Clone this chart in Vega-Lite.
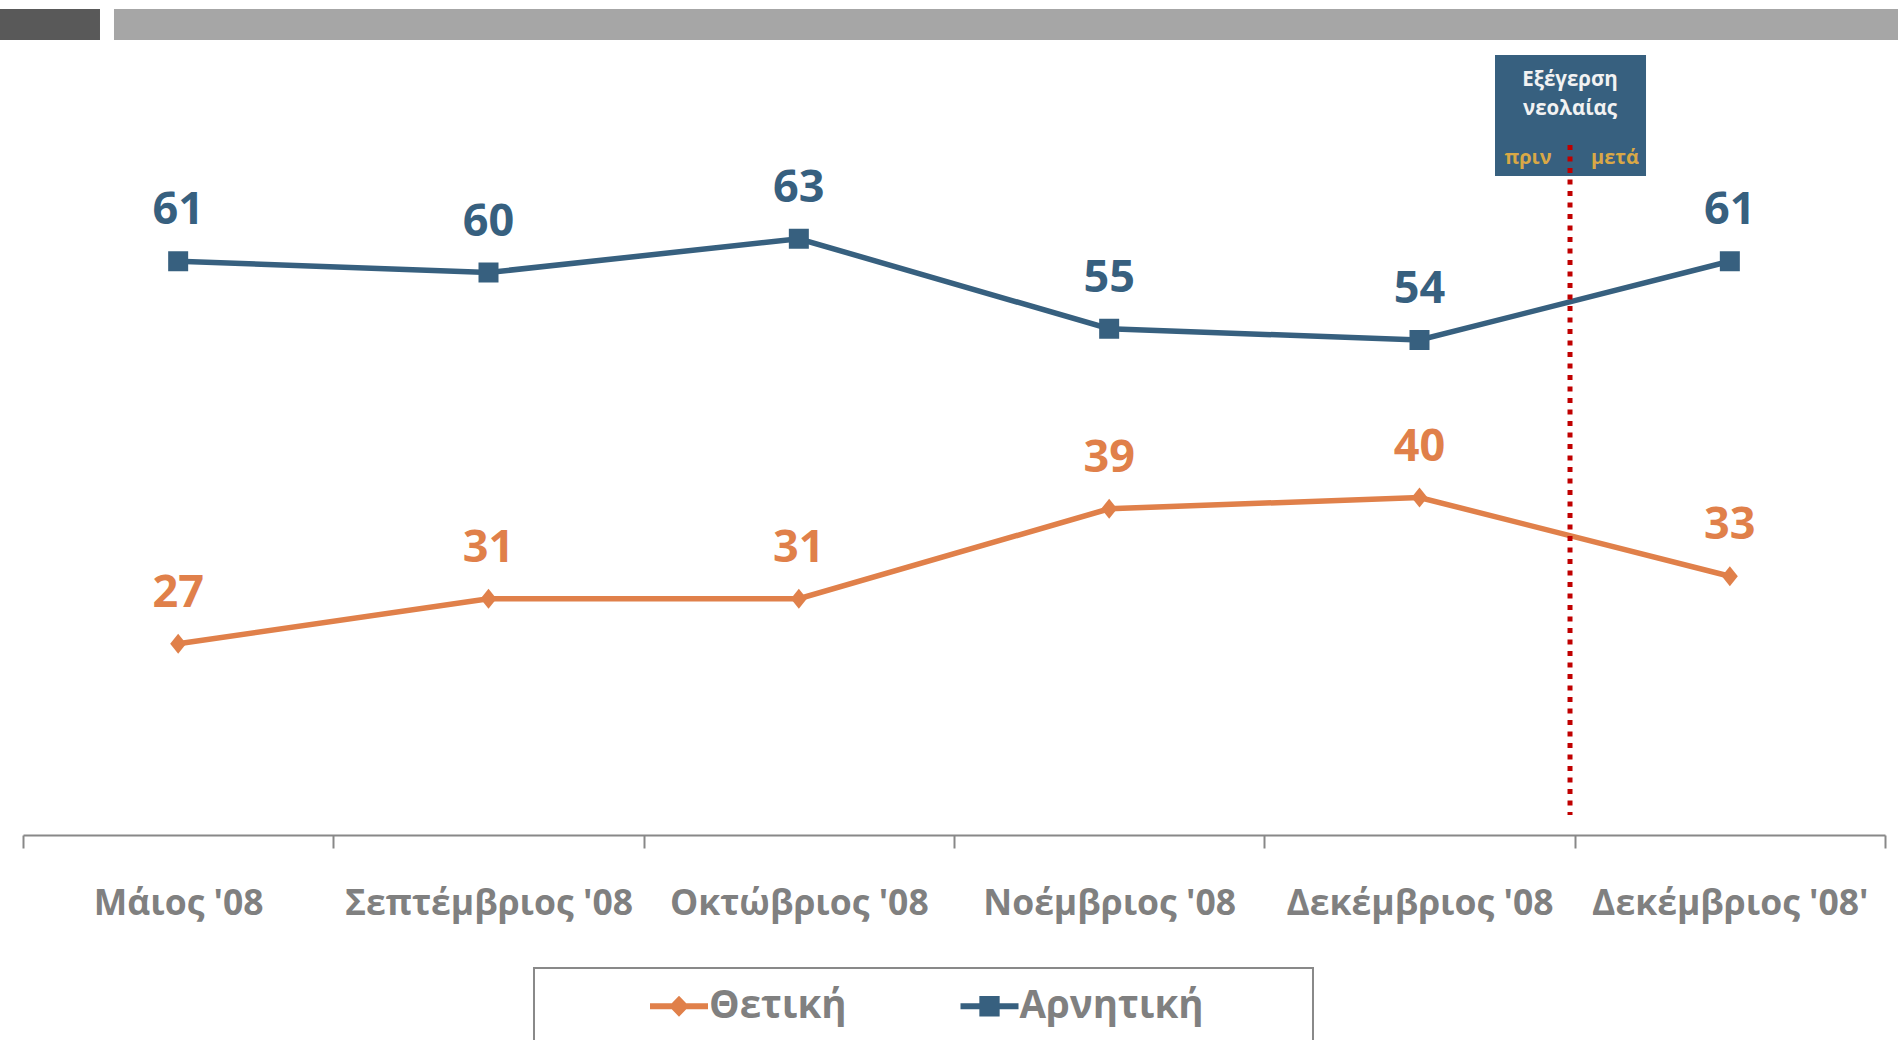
{
  "$schema": "https://vega.github.io/schema/vega-lite/v6.json",
  "width": 1862,
  "height": 675,
  "autosize": {"type": "none"},
  "padding": {"left": 23, "top": 160, "right": 13, "bottom": 205},
  "background": "white",
  "config": {"view": {"stroke": null}, "font": "Open Sans"},
  "data": {
    "values": [
      {"month": "Μάιος '08", "series": "Θετική", "value": 27},
      {"month": "Σεπτέμβριος '08", "series": "Θετική", "value": 31},
      {"month": "Οκτώβριος '08", "series": "Θετική", "value": 31},
      {"month": "Νοέμβριος '08", "series": "Θετική", "value": 39},
      {"month": "Δεκέμβριος '08", "series": "Θετική", "value": 40},
      {"month": "Δεκέμβριος '08'", "series": "Θετική", "value": 33},
      {"month": "Μάιος '08", "series": "Αρνητική", "value": 61},
      {"month": "Σεπτέμβριος '08", "series": "Αρνητική", "value": 60},
      {"month": "Οκτώβριος '08", "series": "Αρνητική", "value": 63},
      {"month": "Νοέμβριος '08", "series": "Αρνητική", "value": 55},
      {"month": "Δεκέμβριος '08", "series": "Αρνητική", "value": 54},
      {"month": "Δεκέμβριος '08'", "series": "Αρνητική", "value": 61}
    ]
  },
  "resolve": {"scale": {"x": "independent"}},
  "layer": [
    {
      "layer": [
        {
          "mark": {"type": "line", "strokeWidth": 5.5},
          "encoding": {
            "x": {"field": "month", "type": "nominal", "title": null,
              "scale": {"type": "band", "domain": ["Μάιος '08", "Σεπτέμβριος '08", "Οκτώβριος '08", "Νοέμβριος '08", "Δεκέμβριος '08", "Δεκέμβριος '08'"], "paddingInner": 0, "paddingOuter": 0},
              "axis": {"domainColor": "#888888", "domainWidth": 2, "tickColor": "#888888", "tickWidth": 2, "tickSize": 13, "tickBand": "extent", "labelFont": "Open Sans", "labelFontSize": 35.5, "labelFontWeight": "bold", "labelColor": "#808080", "labelPadding": 38, "labelLimit": 500, "labelAngle": 0, "labelOverlap": false, "grid": false}},
            "y": {"field": "value", "type": "quantitative", "scale": {"domain": [10, 70], "nice": false, "zero": false}, "axis": null},
            "stroke": {"field": "series", "type": "nominal", "scale": {"domain": ["Αρνητική", "Θετική"], "range": ["#37607F", "#E0804A"]}, "legend": null}
          }
        },
        {
          "transform": [{"filter": "datum.series === 'Θετική'"}],
          "mark": {"type": "point", "shape": "M0,-1L0.8,0L0,1L-0.8,0Z", "size": 400, "filled": true, "color": "#E0804A", "opacity": 1},
          "encoding": {
            "x": {"field": "month", "type": "nominal", "title": null,
              "scale": {"type": "band", "domain": ["Μάιος '08", "Σεπτέμβριος '08", "Οκτώβριος '08", "Νοέμβριος '08", "Δεκέμβριος '08", "Δεκέμβριος '08'"], "paddingInner": 0, "paddingOuter": 0},
              "axis": {"domainColor": "#888888", "domainWidth": 2, "tickColor": "#888888", "tickWidth": 2, "tickSize": 13, "tickBand": "extent", "labelFont": "Open Sans", "labelFontSize": 35.5, "labelFontWeight": "bold", "labelColor": "#808080", "labelPadding": 38, "labelLimit": 500, "labelAngle": 0, "labelOverlap": false, "grid": false}},
            "y": {"field": "value", "type": "quantitative", "scale": {"domain": [10, 70], "nice": false, "zero": false}, "axis": null}
          }
        },
        {
          "transform": [{"filter": "datum.series === 'Αρνητική'"}],
          "mark": {"type": "point", "shape": "square", "size": 400, "filled": true, "color": "#37607F", "opacity": 1},
          "encoding": {
            "x": {"field": "month", "type": "nominal", "title": null,
              "scale": {"type": "band", "domain": ["Μάιος '08", "Σεπτέμβριος '08", "Οκτώβριος '08", "Νοέμβριος '08", "Δεκέμβριος '08", "Δεκέμβριος '08'"], "paddingInner": 0, "paddingOuter": 0},
              "axis": {"domainColor": "#888888", "domainWidth": 2, "tickColor": "#888888", "tickWidth": 2, "tickSize": 13, "tickBand": "extent", "labelFont": "Open Sans", "labelFontSize": 35.5, "labelFontWeight": "bold", "labelColor": "#808080", "labelPadding": 38, "labelLimit": 500, "labelAngle": 0, "labelOverlap": false, "grid": false}},
            "y": {"field": "value", "type": "quantitative", "scale": {"domain": [10, 70], "nice": false, "zero": false}, "axis": null}
          }
        },
        {
          "mark": {"type": "text", "font": "Open Sans", "fontSize": 45, "fontWeight": "bold", "baseline": "alphabetic", "align": "center", "dy": -37},
          "encoding": {
            "x": {"field": "month", "type": "nominal", "title": null,
              "scale": {"type": "band", "domain": ["Μάιος '08", "Σεπτέμβριος '08", "Οκτώβριος '08", "Νοέμβριος '08", "Δεκέμβριος '08", "Δεκέμβριος '08'"], "paddingInner": 0, "paddingOuter": 0},
              "axis": {"domainColor": "#888888", "domainWidth": 2, "tickColor": "#888888", "tickWidth": 2, "tickSize": 13, "tickBand": "extent", "labelFont": "Open Sans", "labelFontSize": 35.5, "labelFontWeight": "bold", "labelColor": "#808080", "labelPadding": 38, "labelLimit": 500, "labelAngle": 0, "labelOverlap": false, "grid": false}},
            "y": {"field": "value", "type": "quantitative", "scale": {"domain": [10, 70], "nice": false, "zero": false}, "axis": null},
            "text": {"field": "value", "type": "quantitative"},
            "fill": {"field": "series", "type": "nominal", "scale": {"domain": ["Αρνητική", "Θετική"], "range": ["#37607F", "#E0804A"]}, "legend": null}
          }
        },
        {
          "mark": {"type": "point", "filled": true, "opacity": 1, "size": 3364},
          "encoding": {
            "x": {"field": "month", "type": "nominal", "title": null,
              "scale": {"type": "band", "domain": ["Μάιος '08", "Σεπτέμβριος '08", "Οκτώβριος '08", "Νοέμβριος '08", "Δεκέμβριος '08", "Δεκέμβριος '08'"], "paddingInner": 0, "paddingOuter": 0},
              "axis": {"domainColor": "#888888", "domainWidth": 2, "tickColor": "#888888", "tickWidth": 2, "tickSize": 13, "tickBand": "extent", "labelFont": "Open Sans", "labelFontSize": 35.5, "labelFontWeight": "bold", "labelColor": "#808080", "labelPadding": 38, "labelLimit": 500, "labelAngle": 0, "labelOverlap": false, "grid": false}},
            "y": {"datum": -100, "type": "quantitative", "scale": {"domain": [10, 70], "nice": false, "zero": false}, "axis": null},
            "color": {"field": "series", "type": "nominal", "scale": {"domain": ["Θετική", "Αρνητική"], "range": ["#E0804A", "#37607F"]},
              "legend": {"title": null, "orient": "none", "legendX": 627, "legendY": 817, "direction": "horizontal", "symbolSize": 3364, "symbolStrokeWidth": 0, "symbolOpacity": 1, "labelFont": "Open Sans", "labelFontSize": 38.5, "labelFontWeight": "bold", "labelColor": "#808080", "labelLimit": 500, "labelOffset": 1, "columnPadding": 113.5, "padding": 0}},
            "shape": {"field": "series", "type": "nominal", "scale": {"domain": ["Θετική", "Αρνητική"], "range": ["M-1,-0.1L-0.249,-0.1L0,-0.36L0.249,-0.1L1,-0.1L1,0.1L0.249,0.1L0,0.36L-0.249,0.1L-1,0.1Z", "M-1,-0.1H-0.35V-0.35H0.35V-0.1H1V0.1H0.35V0.35H-0.35V0.1H-1Z"]},
              "legend": {"title": null, "orient": "none", "legendX": 627, "legendY": 817, "direction": "horizontal", "symbolSize": 3364, "symbolStrokeWidth": 0, "symbolOpacity": 1, "labelFont": "Open Sans", "labelFontSize": 38.5, "labelFontWeight": "bold", "labelColor": "#808080", "labelLimit": 500, "labelOffset": 1, "columnPadding": 113.5, "padding": 0}}
          }
        }
      ]
    },
    {
      "data": {"values": [{"k": 1}]},
      "layer": [
        {
          "mark": {"type": "rect", "color": "#595959"},
          "encoding": {
            "x": {"datum": -0.0741, "type": "quantitative", "scale": {"domain": [0, 6], "nice": false, "zero": false}, "axis": null},
            "x2": {"datum": 0.2481},
            "y": {"datum": 83.42, "type": "quantitative", "axis": null},
            "y2": {"datum": 80.67}
          }
        },
        {
          "mark": {"type": "rect", "color": "#A6A6A6"},
          "encoding": {
            "x": {"datum": 0.2932, "type": "quantitative", "scale": {"domain": [0, 6], "nice": false, "zero": false}, "axis": null},
            "x2": {"datum": 6.05},
            "y": {"datum": 83.42, "type": "quantitative", "axis": null},
            "y2": {"datum": 80.67}
          }
        },
        {
          "mark": {"type": "rect", "color": "#37607F"},
          "encoding": {
            "x": {"datum": 4.7433, "type": "quantitative", "scale": {"domain": [0, 6], "nice": false, "zero": false}, "axis": null},
            "x2": {"datum": 5.2299},
            "y": {"datum": 79.33, "type": "quantitative", "axis": null},
            "y2": {"datum": 68.58}
          }
        },
        {
          "mark": {"type": "rect", "fill": "transparent", "stroke": "#898989", "strokeWidth": 2},
          "encoding": {
            "x": {"datum": 1.6466, "type": "quantitative", "scale": {"domain": [0, 6], "nice": false, "zero": false}, "axis": null},
            "x2": {"datum": 4.1568},
            "y": {"datum": -1.82, "type": "quantitative", "axis": null},
            "y2": {"datum": -12}
          }
        },
        {
          "mark": {"type": "text", "text": "Εξέγερση", "font": "Open Sans", "fontSize": 20.5, "fontWeight": "bold", "color": "#F2F2F2", "align": "center", "baseline": "alphabetic"},
          "encoding": {
            "x": {"datum": 4.985, "type": "quantitative", "scale": {"domain": [0, 6], "nice": false, "zero": false}, "axis": null},
            "y": {"datum": 76.61, "type": "quantitative", "axis": null}
          }
        },
        {
          "mark": {"type": "text", "text": "νεολαίας", "font": "Open Sans", "fontSize": 20.5, "fontWeight": "bold", "color": "#F2F2F2", "align": "center", "baseline": "alphabetic"},
          "encoding": {
            "x": {"datum": 4.985, "type": "quantitative", "scale": {"domain": [0, 6], "nice": false, "zero": false}, "axis": null},
            "y": {"datum": 73.97, "type": "quantitative", "axis": null}
          }
        },
        {
          "mark": {"type": "text", "text": "πριν", "font": "Open Sans", "fontSize": 20, "fontWeight": "bold", "color": "#D9A846", "align": "center", "baseline": "alphabetic"},
          "encoding": {
            "x": {"datum": 4.8497, "type": "quantitative", "scale": {"domain": [0, 6], "nice": false, "zero": false}, "axis": null},
            "y": {"datum": 69.64, "type": "quantitative", "axis": null}
          }
        },
        {
          "mark": {"type": "text", "text": "μετά", "font": "Open Sans", "fontSize": 20, "fontWeight": "bold", "color": "#D9A846", "align": "center", "baseline": "alphabetic"},
          "encoding": {
            "x": {"datum": 5.13, "type": "quantitative", "scale": {"domain": [0, 6], "nice": false, "zero": false}, "axis": null},
            "y": {"datum": 69.64, "type": "quantitative", "axis": null}
          }
        },
        {
          "mark": {"type": "rule", "color": "#C00000", "strokeWidth": 5, "strokeDash": [5, 6.5]},
          "encoding": {
            "x": {"datum": 4.985, "type": "quantitative", "scale": {"domain": [0, 6], "nice": false, "zero": false}, "axis": null},
            "y": {"datum": 71.33, "type": "quantitative", "axis": null},
            "y2": {"datum": 11.78}
          }
        }
      ]
    }
  ]
}
